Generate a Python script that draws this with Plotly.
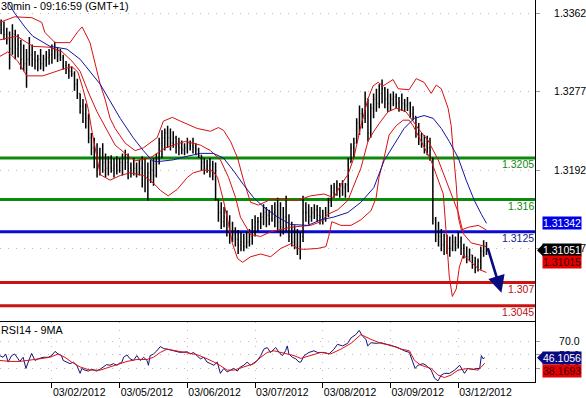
import plotly.graph_objects as go

# ---------------- data ----------------
title_text = "30min - 09:16:59 (GMT+1)"
rsi_title = "RSI14 - 9MA"

# trading-hour index (0 = 03/01/2012 00:00), 24 per trading day
day_ticks = [24, 48, 72, 96, 120, 144, 168]
day_labels = ["03/02/2012", "03/05/2012", "03/06/2012", "03/07/2012",
              "03/08/2012", "03/09/2012", "03/12/2012"]

bar_first_open = 1.3350
bar_high = [
    1.3355, 1.3353, 1.3346, 1.3342, 1.3350, 1.3344, 1.3339, 1.3333, 1.3328, 1.3323,
    1.3336, 1.3328, 1.3321, 1.3317, 1.3323, 1.3317, 1.3321, 1.3323, 1.3328, 1.3331,
    1.3325, 1.3323, 1.3317, 1.3310, 1.3307, 1.3304, 1.3299, 1.3291, 1.3275, 1.3269,
    1.3264, 1.3253, 1.3232, 1.3227, 1.3221, 1.3216, 1.3221, 1.3210, 1.3207, 1.3208,
    1.3205, 1.3207, 1.3205, 1.3210, 1.3214, 1.3210, 1.3200, 1.3205, 1.3200, 1.3203,
    1.3207, 1.3205, 1.3200, 1.3203, 1.3205, 1.3210, 1.3227, 1.3235, 1.3237, 1.3240,
    1.3237, 1.3234, 1.3229, 1.3227, 1.3224, 1.3221, 1.3227, 1.3224, 1.3227, 1.3221,
    1.3216, 1.3208, 1.3205, 1.3203, 1.3205, 1.3202, 1.3200, 1.3160, 1.3157, 1.3152,
    1.3148, 1.3143, 1.3136, 1.3130, 1.3127, 1.3125, 1.3123, 1.3125, 1.3128, 1.3139,
    1.3143, 1.3141, 1.3146, 1.3155, 1.3152, 1.3149, 1.3154, 1.3157, 1.3162, 1.3157,
    1.3152, 1.3164, 1.3144, 1.3136, 1.3132, 1.3128, 1.3125, 1.3164, 1.3157, 1.3155,
    1.3152, 1.3155, 1.3154, 1.3152, 1.3149, 1.3152, 1.3162, 1.3176, 1.3178, 1.3181,
    1.3178, 1.3181, 1.3178, 1.3205, 1.3221, 1.3227, 1.3248, 1.3262, 1.3259, 1.3277,
    1.3269, 1.3264, 1.3275, 1.3280, 1.3285, 1.3290, 1.3282, 1.3280, 1.3275, 1.3277,
    1.3275, 1.3271, 1.3275, 1.3269, 1.3271, 1.3266, 1.3261, 1.3250, 1.3243, 1.3232,
    1.3230, 1.3229, 1.3227, 1.3205, 1.3141, 1.3136, 1.3128, 1.3123, 1.3122, 1.3120,
    1.3122, 1.3120, 1.3125, 1.3120, 1.3112, 1.3109, 1.3107, 1.3100, 1.3098, 1.3096,
    1.3109, 1.3116, 1.3114,
]
bar_low = [
    1.3339, 1.3333, 1.3328, 1.3301, 1.3317, 1.3312, 1.3314, 1.3301, 1.3299, 1.3281,
    1.3305, 1.3304, 1.3301, 1.3299, 1.3301, 1.3299, 1.3304, 1.3306, 1.3307, 1.3312,
    1.3309, 1.3310, 1.3301, 1.3296, 1.3291, 1.3293, 1.3278, 1.3269, 1.3253, 1.3243,
    1.3237, 1.3221, 1.3208, 1.3194, 1.3184, 1.3186, 1.3189, 1.3184, 1.3186, 1.3189,
    1.3184, 1.3187, 1.3189, 1.3186, 1.3192, 1.3182, 1.3184, 1.3186, 1.3184, 1.3186,
    1.3173, 1.3168, 1.3159, 1.3178, 1.3175, 1.3184, 1.3198, 1.3205, 1.3213, 1.3216,
    1.3213, 1.3216, 1.3210, 1.3208, 1.3209, 1.3208, 1.3210, 1.3213, 1.3210, 1.3208,
    1.3205, 1.3192, 1.3187, 1.3189, 1.3184, 1.3181, 1.3159, 1.3136, 1.3128, 1.3130,
    1.3120, 1.3112, 1.3114, 1.3109, 1.3101, 1.3104, 1.3104, 1.3107, 1.3109, 1.3111,
    1.3120, 1.3125, 1.3128, 1.3132, 1.3130, 1.3132, 1.3136, 1.3130, 1.3125, 1.3120,
    1.3122, 1.3125, 1.3114, 1.3109, 1.3106, 1.3100, 1.3095, 1.3114, 1.3136, 1.3133,
    1.3136, 1.3139, 1.3136, 1.3133, 1.3133, 1.3136, 1.3141, 1.3152, 1.3162, 1.3164,
    1.3162, 1.3164, 1.3162, 1.3168, 1.3200, 1.3205, 1.3221, 1.3230, 1.3237, 1.3243,
    1.3223, 1.3227, 1.3248, 1.3255, 1.3259, 1.3264, 1.3259, 1.3255, 1.3256, 1.3261,
    1.3259, 1.3255, 1.3256, 1.3255, 1.3256, 1.3248, 1.3246, 1.3227, 1.3219, 1.3216,
    1.3210, 1.3208, 1.3202, 1.3133, 1.3114, 1.3109, 1.3104, 1.3100, 1.3101, 1.3098,
    1.3104, 1.3104, 1.3107, 1.3100, 1.3096, 1.3091, 1.3093, 1.3085, 1.3080, 1.3082,
    1.3084, 1.3098, 1.3100,
]
bar_close = [
    1.3344, 1.3339, 1.3333, 1.3323, 1.3339, 1.3323, 1.3328, 1.3312, 1.3307, 1.3312,
    1.3317, 1.3312, 1.3310, 1.3312, 1.3307, 1.3312, 1.3314, 1.3317, 1.3323, 1.3321,
    1.3317, 1.3314, 1.3305, 1.3301, 1.3299, 1.3296, 1.3285, 1.3275, 1.3261, 1.3253,
    1.3248, 1.3227, 1.3216, 1.3205, 1.3194, 1.3205, 1.3200, 1.3194, 1.3200, 1.3194,
    1.3197, 1.3192, 1.3200, 1.3205, 1.3200, 1.3194, 1.3192, 1.3194, 1.3189, 1.3194,
    1.3189, 1.3184, 1.3189, 1.3192, 1.3186, 1.3205, 1.3221, 1.3227, 1.3232, 1.3227,
    1.3221, 1.3227, 1.3218, 1.3216, 1.3214, 1.3216, 1.3221, 1.3218, 1.3216, 1.3214,
    1.3208, 1.3200, 1.3194, 1.3197, 1.3192, 1.3189, 1.3160, 1.3146, 1.3136, 1.3141,
    1.3125, 1.3120, 1.3122, 1.3117, 1.3111, 1.3114, 1.3109, 1.3114, 1.3120, 1.3130,
    1.3136, 1.3136, 1.3141, 1.3146, 1.3143, 1.3139, 1.3146, 1.3141, 1.3136, 1.3130,
    1.3141, 1.3130, 1.3120, 1.3114, 1.3111, 1.3109, 1.3120, 1.3146, 1.3146, 1.3141,
    1.3146, 1.3149, 1.3143, 1.3141, 1.3139, 1.3146, 1.3157, 1.3168, 1.3173, 1.3171,
    1.3175, 1.3173, 1.3176, 1.3200, 1.3216, 1.3221, 1.3243, 1.3253, 1.3248, 1.3269,
    1.3232, 1.3259, 1.3269, 1.3264, 1.3275, 1.3280, 1.3269, 1.3264, 1.3269, 1.3271,
    1.3264, 1.3266, 1.3264, 1.3262, 1.3264, 1.3253, 1.3250, 1.3232, 1.3229, 1.3221,
    1.3218, 1.3216, 1.3205, 1.3139, 1.3125, 1.3120, 1.3111, 1.3114, 1.3109, 1.3107,
    1.3114, 1.3111, 1.3114, 1.3107, 1.3100, 1.3098, 1.3100, 1.3090, 1.3087, 1.3093,
    1.3104, 1.3109, 1.31051,
]
bar_hour = list(range(6, 6 + len(bar_close)))
bar_open = [bar_first_open] + bar_close[:-1]

# Bollinger bands (red) and moving average (blue)
upper_h = [5.5, 10.8, 16.9, 20.4, 21.5, 25.1, 30.4, 33.2, 34.7, 37.5,
           41.1, 42.8, 44.6, 46.4, 50.0, 53.5, 56.4, 61.3, 63.5, 66.7,
           69.5, 75.5, 80.2, 83.0, 84.8, 87.3, 89.8, 91.9, 94.4, 97.2,
           101.5, 106.1, 111.1, 115.7, 120.4, 123.9, 126.4, 128.9, 131.0, 133.5,
           136.0, 137.8, 139.6, 141.3, 144.9, 146.7, 150.6, 153.1, 155.9, 158.4,
           160.2, 162.0, 164.4, 165.5, 166.2, 167.3, 168.0, 169.1, 171.6, 175.1,
           178.0]
upper_p = [1.3352, 1.3358, 1.3357, 1.3352, 1.3341, 1.3330, 1.3330, 1.3342, 1.3347, 1.3330,
           1.3285, 1.3269, 1.3248, 1.3237, 1.3221, 1.3213, 1.3216, 1.3227, 1.3245, 1.3249,
           1.3245, 1.3237, 1.3234, 1.3238, 1.3235, 1.3223, 1.3205, 1.3181, 1.3157, 1.3154,
           1.3160, 1.3160, 1.3159, 1.3164, 1.3166, 1.3162, 1.3176, 1.3187, 1.3205, 1.3240,
           1.3269, 1.3283, 1.3287, 1.3283, 1.3290, 1.3280, 1.3279, 1.3291, 1.3287, 1.3275,
           1.3284, 1.3280, 1.3259, 1.3240, 1.3213, 1.3176, 1.3141, 1.3127, 1.3130, 1.3132,
           1.3127]
middle_h = [5.5, 11.6, 17.2, 23.3, 27.6, 31.1, 34.0, 36.8, 40.0, 43.6,
            46.4, 50.7, 53.5, 58.8, 64.2, 71.3, 76.6, 80.2, 83.7, 86.6,
            89.1, 90.8, 94.4, 98.0, 101.5, 108.6, 115.7, 119.3, 121.8, 125.3,
            128.9, 130.7, 133.5, 136.0, 138.1, 140.6, 143.1, 146.0, 149.5, 152.0,
            153.8, 157.3, 160.9, 164.4, 168.0, 169.8, 172.6, 178.0]
middle_p = [1.3333, 1.3337, 1.3326, 1.3325, 1.3320, 1.3310, 1.3299, 1.3277, 1.3255, 1.3234,
            1.3219, 1.3208, 1.3202, 1.3205, 1.3216, 1.3223, 1.3219, 1.3213, 1.3203, 1.3184,
            1.3162, 1.3141, 1.3122, 1.3120, 1.3125, 1.3130, 1.3132, 1.3136, 1.3144, 1.3149,
            1.3159, 1.3173, 1.3194, 1.3223, 1.3234, 1.3245, 1.3255, 1.3259, 1.3255, 1.3245,
            1.3237, 1.3224, 1.3203, 1.3175, 1.3146, 1.3123, 1.3113, 1.3109]
lower_h = [5.5, 8.4, 11.9, 15.1, 20.8, 24.4, 27.6, 31.1, 33.2, 35.0,
           36.8, 38.2, 40.0, 41.1, 44.6, 48.2, 51.7, 56.4, 59.9, 62.4,
           65.2, 68.4, 72.0, 74.1, 77.7, 80.9, 82.7, 83.7, 84.8, 86.6,
           88.0, 89.8, 91.6, 94.4, 98.0, 101.5, 105.1, 108.6, 111.1, 113.2,
           118.2, 121.1, 122.1, 123.2, 126.4, 130.0, 133.5, 137.1, 138.9, 139.9,
           141.7, 143.5, 146.0, 148.5, 150.6, 152.0, 155.9, 158.4, 160.2, 162.7,
           163.7, 164.8, 165.9, 167.3, 168.4, 169.8, 172.6, 175.5, 178.0]
lower_p = [1.3315, 1.3320, 1.3310, 1.3294, 1.3294, 1.3298, 1.3301, 1.3304, 1.3298, 1.3280,
           1.3259, 1.3234, 1.3202, 1.3187, 1.3181, 1.3186, 1.3189, 1.3186, 1.3178, 1.3170,
           1.3164, 1.3171, 1.3184, 1.3189, 1.3192, 1.3191, 1.3184, 1.3173, 1.3159, 1.3133,
           1.3112, 1.3096, 1.3092, 1.3098, 1.3101, 1.3098, 1.3107, 1.3112, 1.3107, 1.3106,
           1.3107, 1.3109, 1.3120, 1.3136, 1.3132, 1.3132, 1.3138, 1.3148, 1.3162, 1.3184,
           1.3205, 1.3230, 1.3240, 1.3246, 1.3246, 1.3240, 1.3216, 1.3202, 1.3187, 1.3166,
           1.3125, 1.3077, 1.3055, 1.3063, 1.3087, 1.3100, 1.3092, 1.3084, 1.3081]
ma_h = [8.4, 10.8, 14.4, 17.2, 23.3, 29.3, 34.0, 41.1, 48.2, 52.8,
        56.4, 59.6, 61.3, 67.0, 70.6, 76.6, 81.2, 84.8, 88.4, 91.9,
        95.5, 99.0, 104.0, 108.6, 114.7, 119.3, 123.9, 128.9, 133.5, 138.1,
        141.7, 144.9, 148.8, 152.4, 155.9, 159.1, 162.0, 164.8, 168.0, 170.8,
        173.7, 176.2, 178.0]
ma_p = [1.3374, 1.3362, 1.3347, 1.3337, 1.3326, 1.3323, 1.3312, 1.3285, 1.3248, 1.3227,
        1.3213, 1.3202, 1.3201, 1.3203, 1.3206, 1.3210, 1.3210, 1.3205, 1.3191, 1.3176,
        1.3162, 1.3152, 1.3141, 1.3133, 1.3132, 1.3138, 1.3141, 1.3146, 1.3157, 1.3173,
        1.3202, 1.3218, 1.3237, 1.3248, 1.3251, 1.3248, 1.3237, 1.3223, 1.3205, 1.3181,
        1.3159, 1.3144, 1.31342]

# RSI(14) and its 9-period MA
rsi_h = [5.5, 6.7, 7.6, 8.5, 9.7, 10.8, 12.0, 12.6, 13.8, 14.8,
         15.6, 16.8, 18.0, 19.1, 20.9, 22.7, 23.9, 25.1, 26.2, 27.4,
         28.0, 29.2, 30.4, 31.6, 32.8, 34.0, 34.6, 35.7, 36.9, 38.1,
         39.9, 41.1, 42.2, 43.4, 44.6, 45.8, 47.0, 48.8, 49.4, 50.6,
         51.7, 52.9, 54.1, 55.3, 56.5, 57.7, 58.2, 58.8, 60.0, 61.2,
         62.4, 63.6, 64.8, 67.1, 69.5, 71.9, 73.1, 74.2, 75.4, 76.6,
         77.8, 79.0, 80.2, 81.4, 82.6, 83.7, 84.9, 86.1, 87.3, 88.5,
         89.7, 90.8, 92.0, 93.2, 94.4, 95.6, 96.8, 98.0, 99.1, 100.3,
         101.5, 103.3, 104.5, 105.7, 106.8, 107.4, 108.0, 109.2, 110.4, 111.6,
         112.2, 113.4, 115.1, 116.9, 118.1, 120.5, 122.2, 124.0, 125.2, 127.0,
         128.8, 130.0, 131.7, 132.9, 134.1, 135.3, 135.9, 137.1, 138.9, 140.6,
         142.4, 144.2, 146.6, 148.9, 150.7, 151.9, 152.7, 153.7, 155.5, 156.6,
         158.4, 159.6, 160.8, 162.0, 163.1, 164.9, 166.7, 168.5, 170.2, 171.4,
         173.2, 174.4, 175.6, 176.2, 176.8, 177.4]
rsi_v = [49.0, 46.6, 51.4, 39.6, 49.0, 51.4, 44.4, 40.6, 46.6, 30.4,
         39.6, 52.2, 42.0, 44.4, 46.6, 46.6, 49.0, 55.1, 51.4, 49.0,
         42.0, 39.6, 37.4, 39.6, 35.0, 23.3, 30.4, 28.0, 26.6, 29.4,
         26.6, 29.4, 32.6, 36.0, 35.0, 37.4, 35.0, 39.6, 46.6, 50.0,
         44.4, 42.0, 49.0, 42.0, 46.6, 42.0, 35.0, 49.0, 51.4, 56.0,
         62.1, 59.3, 58.4, 56.0, 53.6, 54.6, 51.4, 53.6, 49.0, 44.4,
         46.6, 39.6, 37.4, 35.0, 39.6, 23.3, 30.4, 25.6, 28.0, 30.4,
         26.6, 32.6, 35.0, 39.6, 35.0, 38.8, 42.0, 49.0, 58.4, 60.7,
         53.6, 60.7, 53.6, 49.0, 56.0, 63.1, 51.4, 46.6, 44.4, 39.6,
         39.6, 49.0, 53.6, 56.0, 53.6, 53.6, 51.4, 58.4, 65.4, 63.1,
         66.8, 74.7, 79.5, 85.5, 77.1, 72.5, 63.1, 67.7, 66.8, 67.7,
         65.4, 64.0, 60.7, 56.0, 53.6, 39.6, 30.4, 35.0, 37.4, 35.0,
         28.0, 16.3, 12.5, 20.9, 23.3, 23.3, 28.0, 35.0, 23.3, 30.4,
         28.9, 30.4, 30.4, 49.0, 44.4, 46.1056]
rsi_ma_h = [5.5, 9.1, 12.6, 16.2, 19.7, 23.3, 26.2, 28.6, 31.0, 34.0,
            37.5, 41.1, 44.6, 48.2, 50.6, 54.1, 57.7, 60.0, 62.4, 64.8,
            68.3, 71.9, 75.4, 79.0, 82.6, 86.1, 88.5, 92.0, 95.6, 98.0,
            100.3, 102.7, 106.2, 109.8, 112.2, 115.7, 119.3, 122.8, 126.4, 130.0,
            133.5, 137.1, 140.6, 144.2, 147.7, 150.7, 152.5, 154.8, 158.4, 160.8,
            163.1, 165.5, 167.9, 171.4, 175.0, 176.2, 177.4]
rsi_ma_v = [42.0, 40.6, 40.6, 42.0, 44.4, 46.6, 51.4, 46.6, 39.6, 32.6,
            28.0, 28.0, 32.6, 37.4, 40.6, 43.4, 43.4, 46.6, 53.6, 58.4,
            56.0, 52.8, 50.4, 44.4, 37.4, 28.0, 28.0, 32.6, 37.4, 46.6,
            53.6, 56.0, 52.8, 49.0, 45.0, 49.0, 53.6, 51.4, 58.4, 66.8,
            79.5, 72.5, 66.8, 64.0, 58.4, 56.0, 42.0, 35.0, 30.4, 20.9,
            17.2, 20.9, 28.0, 30.4, 28.0, 32.6, 38.1693]

# support / resistance levels
level_values = [1.3205, 1.316, 1.3125, 1.307, 1.3045]
level_labels = ["1.3205", "1.316", "1.3125", "1.307", "1.3045"]
level_colors = ["#0b8a0b", "#0b8a0b", "#0a0ad2", "#cc1111", "#cc1111"]
level_text_colors = ["#118811", "#118811", "#1a1a8a", "#bb1111", "#bb1111"]

# forecast arrow (from, to)
forecast_h = [178.3, 183.3]
forecast_p = [1.3109, 1.3059]

price_ticks = [1.3362, 1.3277, 1.3192, 1.3107]
rsi_ticks = [70, 50, 30]

last_ma = 1.31342
last_price = 1.31051
last_band = 1.31015
last_rsi = 46.1056
last_rsi_ma = 38.1693

# ---------------- figure ----------------
FONT = "Liberation Sans, Arial, sans-serif"
fig = go.Figure()

fig.add_trace(go.Scatter(x=upper_h, y=upper_p, mode="lines",
                         line=dict(color="#d81010", width=1), hoverinfo="skip"))
fig.add_trace(go.Scatter(x=middle_h, y=middle_p, mode="lines",
                         line=dict(color="#d81010", width=1), hoverinfo="skip"))
fig.add_trace(go.Scatter(x=lower_h, y=lower_p, mode="lines",
                         line=dict(color="#d81010", width=1), hoverinfo="skip"))
fig.add_trace(go.Scatter(x=ma_h, y=ma_p, mode="lines",
                         line=dict(color="#1414a0", width=1), hoverinfo="skip"))
fig.add_trace(go.Ohlc(x=bar_hour, open=bar_open, high=bar_high, low=bar_low,
                      close=bar_close, tickwidth=0.3,
                      increasing=dict(line=dict(color="black", width=1.5)),
                      decreasing=dict(line=dict(color="black", width=1.5)),
                      hoverinfo="skip"))

fig.add_trace(go.Scatter(x=rsi_h, y=rsi_v, mode="lines", xaxis="x2", yaxis="y2",
                         line=dict(color="#12127a", width=1), hoverinfo="skip"))
fig.add_trace(go.Scatter(x=rsi_ma_h, y=rsi_ma_v, mode="lines", xaxis="x2", yaxis="y2",
                         line=dict(color="#e01010", width=1), hoverinfo="skip"))

shapes = []
annotations = []
for val, lab, col, tcol in zip(level_values, level_labels, level_colors, level_text_colors):
    shapes.append(dict(type="line", xref="paper", x0=0, x1=1, yref="y", y0=val, y1=val,
                       line=dict(color=col, width=3), layer="below"))
    annotations.append(dict(x=1, xref="paper", y=val, yref="y", text=lab, showarrow=False,
                            xanchor="right", yanchor="top", yshift=1, borderpad=0,
                            font=dict(family=FONT, size=10.5, color=tcol)))

annotations.append(dict(x=forecast_h[1], y=forecast_p[1], xref="x", yref="y",
                        ax=forecast_h[0], ay=forecast_p[0], axref="x", ayref="y",
                        showarrow=True, arrowhead=2, arrowsize=1.3, arrowwidth=2.6,
                        arrowcolor="#0a0a80", text=""))

annotations.append(dict(x=0, y=1, xref="paper", yref="paper", xanchor="left", yanchor="top",
                        text=title_text, showarrow=False, borderpad=0, yshift=1,
                        font=dict(family=FONT, size=10.8, color="black")))
annotations.append(dict(x=0, y=0.1576, xref="paper", yref="paper", xanchor="left",
                        yanchor="top", text=rsi_title, showarrow=False, borderpad=0, yshift=-1,
                        font=dict(family=FONT, size=10.8, color="black")))


def tag(val, yref, bg, fg, yshift=0, pointed=False):
    annotations.append(dict(x=1, xref="paper", y=val, yref=yref, xanchor="left",
                            yanchor="middle", xshift=7, yshift=yshift,
                            text=f"{val}", showarrow=False, bgcolor=bg, borderpad=0,
                            font=dict(family=FONT, size=10.5, color=fg)))
    if pointed:
        shapes.append(dict(type="path", xref="paper", xsizemode="pixel", xanchor=1,
                           yref=yref, ysizemode="pixel", yanchor=val,
                           path="M 2 0 L 8 6 L 8 -6 Z", fillcolor=bg,
                           line=dict(color=bg, width=0)))


tag(last_ma, "y", "#0000e6", "white")
tag(last_price, "y", "black", "white", pointed=True)
tag(last_band, "y", "#e60000", "#3a0000", yshift=-8)
tag(last_rsi, "y2", "#0a0a80", "white", pointed=True)
tag(last_rsi_ma, "y2", "#e60000", "#3a0000", yshift=-8)

x_range = [5.6, 195.2]
grid = dict(gridcolor="#bdbdbd", griddash="1px,7px", gridwidth=1)

fig.update_layout(
    width=586, height=398,
    margin=dict(l=0, r=51, t=0, b=11),
    paper_bgcolor="white", plot_bgcolor="white",
    showlegend=False,
    font=dict(family=FONT, size=10.5, color="black"),
    xaxis=dict(domain=[0, 1], anchor="y", range=x_range, showticklabels=False,
               showgrid=False, zeroline=False, showline=True, linecolor="black",
               linewidth=1, ticks="", rangeslider=dict(visible=False)),
    yaxis=dict(domain=[0.1602, 1], anchor="x", side="right",
               range=[1.30286, 1.33762], tickvals=price_ticks,
               ticktext=[f"{v:.4f}" for v in price_ticks],
               ticks="outside", ticklen=4, tickcolor="#999999",
               showline=True, linecolor="black", linewidth=1,
               zeroline=False, showgrid=True, ticklabelstandoff=12, **grid),
    xaxis2=dict(domain=[0, 1], anchor="y2", range=x_range, tickvals=day_ticks,
                ticktext=day_labels, ticks="outside", ticklen=5, tickcolor="black",
                ticklabelposition="outside right", showgrid=True, zeroline=False,
                showline=True, linecolor="black", linewidth=1, **grid),
    yaxis2=dict(domain=[0, 0.1576], anchor="x2", side="right", range=[10.8, 98],
                tickvals=rsi_ticks, ticktext=[f"{v:.1f}" for v in rsi_ticks],
                ticks="outside", ticklen=4, tickcolor="#999999",
                showline=True, linecolor="black", linewidth=1,
                zeroline=False, showgrid=True, ticklabelstandoff=17, **grid),
    shapes=shapes,
    annotations=annotations,
)

fig.write_html("out.html", config={"displayModeBar": False, "staticPlot": True},
               post_script="document.body.style.margin='0px';"
                           "document.body.style.overflow='hidden';")
